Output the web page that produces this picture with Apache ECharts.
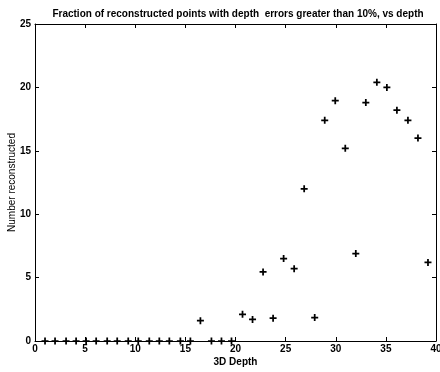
<!DOCTYPE html>
<html>
<head>
<meta charset="utf-8">
<script src="https://cdn.jsdelivr.net/npm/echarts@6/dist/echarts.min.js"></script>
<style>
  html, body { margin: 0; padding: 0; background: #fff; }
  #chart { width: 440px; height: 372px; }
</style>
</head>
<body>
<div id="chart"></div>
<script>
// depth values (x) and number reconstructed (y)
const depths = [1.0, 2.0, 3.1, 4.1, 5.1, 6.1, 7.2, 8.2, 9.3, 10.3, 11.4, 12.4, 13.4, 14.5, 15.5,
  16.5, 17.6, 18.6, 19.6, 20.7, 21.7, 22.75, 23.75, 24.8, 25.85, 26.85, 27.9, 28.9, 29.95,
  30.95, 32.0, 33.0, 34.1, 35.1, 36.1, 37.2, 38.2, 39.2]
const counts = [0, 0, 0, 0, 0, 0, 0, 0, 0, 0, 0, 0, 0, 0, 0,
  1.6, 0, 0, 0, 2.1, 1.7, 5.45, 1.8, 6.5, 5.7, 12.0, 1.85, 17.4, 18.95,
  15.2, 6.9, 18.8, 20.4, 20.0, 18.2, 17.4, 16.0, 6.2]
const xTicks = [0, 40, 5]
const yTicks = [0, 25, 5]

const chart = echarts.init(document.getElementById('chart'))

const labelFont = {
  color: '#000',
  fontFamily: 'Liberation Sans',
  fontWeight: 'bold',
  fontSize: 10
}
const line = { show: true, onZero: false, lineStyle: { color: '#000', width: 1 } }
const tick = { show: true, inside: true, length: 4, lineStyle: { color: '#000', width: 1 } }

chart.setOption({
  animation: false,
  backgroundColor: '#fff',
  title: {
    text: 'Fraction of reconstructed points with depth  errors greater than 10%, vs depth',
    left: 233,
    textAlign: 'center',
    top: 4,
    textStyle: { color: '#000', fontFamily: 'Liberation Sans', fontWeight: 'bold', fontSize: 10 }
  },
  grid: { left: 35, right: 4, top: 24, bottom: 31, containLabel: false, outerBoundsMode: 'none' },
  xAxis: [{
    type: 'value',
    min: xTicks[0],
    max: xTicks[1],
    interval: xTicks[2],
    name: '3D Depth',
    nameLocation: 'middle',
    nameGap: 16,
    nameMoveOverlap: false,
    nameTextStyle: labelFont,
    axisLine: line,
    axisTick: tick,
    axisLabel: Object.assign({ margin: 3 }, labelFont),
    splitLine: { show: false }
  }, {
    type: 'value',
    position: 'top',
    min: xTicks[0],
    max: xTicks[1],
    interval: xTicks[2],
    axisLine: line,
    axisTick: tick,
    axisLabel: { show: false },
    splitLine: { show: false }
  }],
  yAxis: [{
    type: 'value',
    min: yTicks[0],
    max: yTicks[1],
    interval: yTicks[2],
    name: 'Number reconstructed',
    nameLocation: 'middle',
    nameGap: 18,
    nameMoveOverlap: false,
    nameTextStyle: Object.assign({}, labelFont, { fontWeight: 'normal', fontSize: 10 }),
    axisLine: line,
    axisTick: tick,
    axisLabel: Object.assign({ margin: 4 }, labelFont),
    splitLine: { show: false }
  }, {
    type: 'value',
    position: 'right',
    min: yTicks[0],
    max: yTicks[1],
    interval: yTicks[2],
    axisLine: line,
    axisTick: tick,
    axisLabel: { show: false },
    splitLine: { show: false }
  }],
  series: [{
    type: 'scatter',
    data: depths.map((d, i) => [d, counts[i]]),
    symbol: 'path://M3,0H5V3H8V5H5V8H3V5H0V3H3Z',
    symbolSize: 7,
    clip: false,
    itemStyle: { color: '#000', opacity: 1 }
  }, {
    // empty series so the mirrored top/right axes get drawn
    type: 'scatter',
    xAxisIndex: 1,
    yAxisIndex: 1,
    data: []
  }]
})
</script>
</body>
</html>
